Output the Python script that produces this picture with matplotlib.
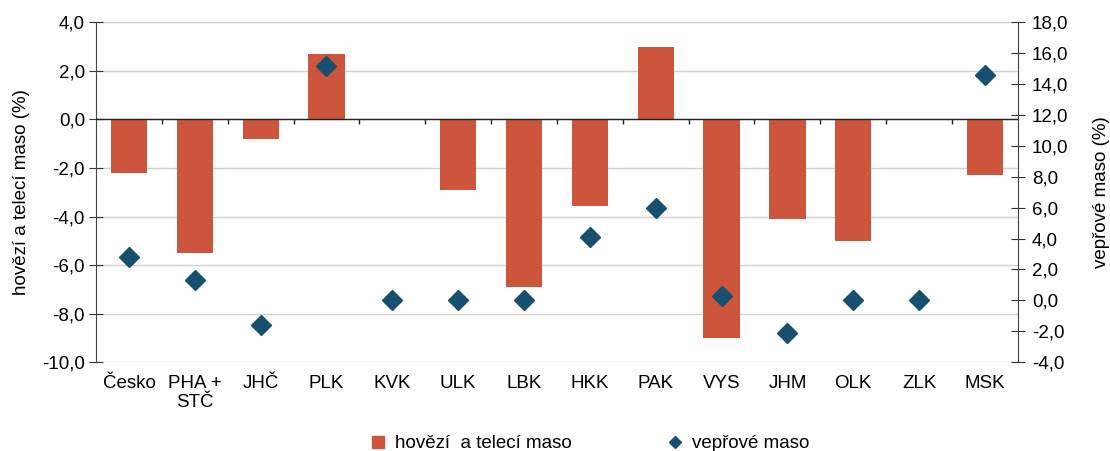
import numpy as np
import matplotlib
matplotlib.use('Agg')
from matplotlib import pyplot as plt
from matplotlib.ticker import FuncFormatter
from matplotlib.lines import Line2D

plt.rcParams['font.family'] = ['Liberation Sans', 'DejaVu Sans']

# data
kraje = ['Česko', 'PHA +\nSTČ', 'JHČ', 'PLK', 'KVK', 'ULK', 'LBK',
         'HKK', 'PAK', 'VYS', 'JHM', 'OLK', 'ZLK', 'MSK']
hovezi = [-2.2, -5.5, -0.8, 2.7, 0.0, -2.9, -6.9,
          -3.55, 3.0, -9.0, -4.1, -5.0, 0.0, -2.3]
veprove = [2.8, 1.3, -1.6, 15.2, 0.0, 0.0, 0.0,
           4.1, 6.0, 0.3, -2.1, 0.0, 0.0, 14.6]

red = '#cd553b'
blue = '#17506f'
fs = 13.5

fig = plt.figure(figsize=(11.1, 4.51), dpi=100)
ax = fig.add_axes([0.0865, 0.197, 0.8305, 0.7535])
x = np.arange(len(kraje))

ax.bar(x, hovezi, width=0.55, color=red, zorder=2, label='hovězí  a telecí maso')
ax.set_xlim(-0.5, len(kraje) - 0.5)
ax.set_ylim(-10, 4)
ax.set_yticks(np.arange(-10, 4.1, 2))
ax.yaxis.set_major_formatter(FuncFormatter(lambda v, p: f'{v:.1f}'.replace('.', ',')))
ax.grid(axis='y', color='#d0d0d0', linewidth=1, zorder=0)
ax.axhline(0, color='#222222', linewidth=1, zorder=3)
# short category separators under the zero line
ax.vlines(np.arange(0.5, len(kraje) - 0.5), -0.2, 0, color='#222222', linewidth=1, zorder=3)

ax.set_xticks(x)
ax.set_xticklabels(kraje, fontsize=fs, linespacing=1.15)
ax.tick_params(axis='x', length=0, pad=9)
ax.tick_params(axis='y', labelsize=fs, length=10, direction='inout', color='#333333', pad=3)
ax.set_ylabel('hovězí a telecí maso (%)', fontsize=fs, labelpad=9)

for s in ['top', 'bottom', 'right']:
    ax.spines[s].set_visible(False)
ax.spines['left'].set_color('#444444')

ax2 = ax.twinx()
ax2.plot(x, veprove, linestyle='none', marker='D', markersize=10.5,
         color=blue, zorder=4, label='vepřové maso')
ax2.set_ylim(-4, 18)
ax2.set_yticks(np.arange(-4, 18.1, 2))
ax2.yaxis.set_major_formatter(FuncFormatter(lambda v, p: f'{v:.1f}'.replace('.', ',')))
ax2.tick_params(axis='y', labelsize=fs, length=10, direction='inout', color='#333333', pad=5)
ax2.set_ylabel('vepřové maso (%)', fontsize=fs, labelpad=18)
for s in ['top', 'bottom', 'left']:
    ax2.spines[s].set_visible(False)
ax2.spines['right'].set_color('#444444')

hs = [Line2D([], [], linestyle='none', marker='s', markersize=9, color=red),
      Line2D([], [], linestyle='none', marker='D', markersize=6, color=blue)]
labels = ['hovězí  a telecí maso', 'vepřové maso']
fig.legend(hs, labels, loc='lower center', bbox_to_anchor=(0.53, -0.04), ncol=2,
           frameon=False, fontsize=fs, columnspacing=4.9, handletextpad=0.3,
           handlelength=1.2)

fig.savefig('out.png', dpi=100)
